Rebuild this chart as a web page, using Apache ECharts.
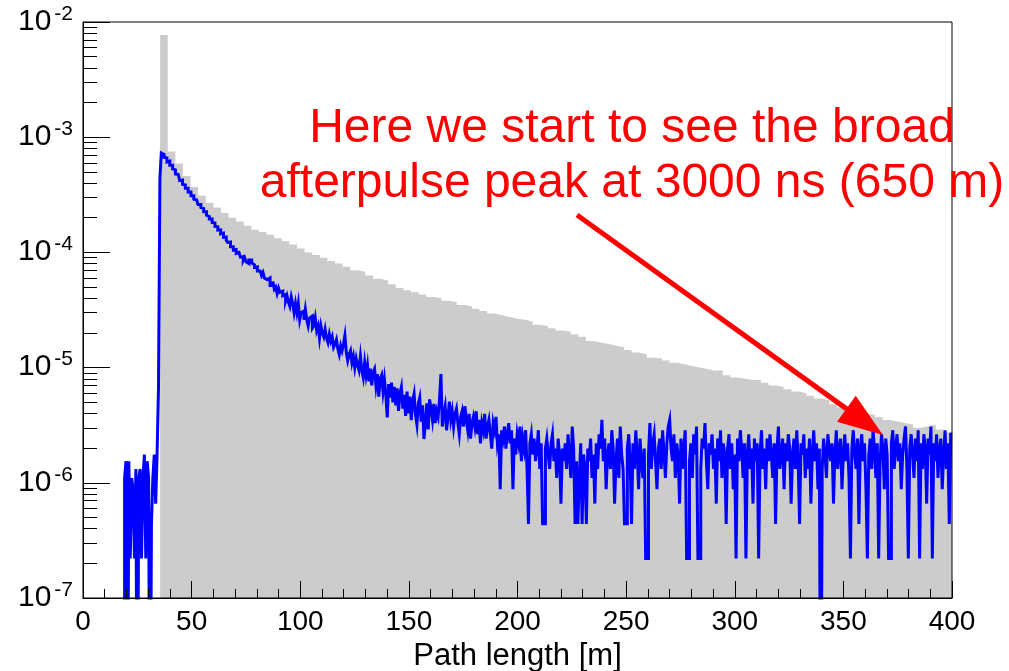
<!DOCTYPE html>
<html>
<head>
<meta charset="utf-8">
<script src="https://cdn.jsdelivr.net/npm/echarts@6/dist/echarts.min.js"></script>
<style>
  html, body { margin: 0; padding: 0; background: #fff; }
  #chart { width: 1009px; height: 671px; }
</style>
</head>
<body>
<div id="chart"></div>
<script>
// ---------------- data ----------------
// grey histogram: bins of width grayBinWidth starting at grayBinStart [m]
const grayBinStart = 35.5;
const grayBinWidth = 3.5;
const grayValues = [
  7.7e-3, 7.5e-4, 5.9e-4, 4.6e-4, 3.7e-4, 3.1e-4, 2.7e-4, 2.45e-4, 2.2e-4, 2.0e-4,
  1.85e-4, 1.7e-4, 1.57e-4, 1.5e-4, 1.42e-4, 1.33e-4, 1.25e-4, 1.17e-4, 1.08e-4, 1.0e-4,
  9.5e-5, 9.0e-5, 8.4e-5, 8.0e-5, 7.5e-5, 7.0e-5, 6.8e-5, 6.3e-5, 5.9e-5, 5.7e-5,
  5.3e-5, 4.9e-5, 4.7e-5, 4.5e-5, 4.3e-5, 4.1e-5, 4.0e-5, 3.8e-5, 3.7e-5, 3.5e-5,
  3.4e-5, 3.25e-5, 3.1e-5, 2.95e-5, 2.85e-5, 2.75e-5, 2.65e-5, 2.6e-5, 2.5e-5, 2.35e-5,
  2.3e-5, 2.2e-5, 2.1e-5, 2.05e-5, 1.95e-5, 1.85e-5, 1.7e-5, 1.65e-5, 1.6e-5, 1.55e-5,
  1.5e-5, 1.42e-5, 1.35e-5, 1.3e-5, 1.22e-5, 1.2e-5, 1.15e-5, 1.1e-5, 1.07e-5, 1.03e-5,
  1.0e-5, 9.7e-6, 9.4e-6, 9.5e-6, 8.6e-6, 8.2e-6, 8.0e-6, 7.8e-6, 7.8e-6, 7.4e-6,
  7.0e-6, 6.8e-6, 6.5e-6, 6.2e-6, 6.0e-6, 5.7e-6, 5.4e-6, 5.2e-6, 4.8e-6, 4.5e-6,
  4.3e-6, 4.2e-6, 4.0e-6, 3.9e-6, 3.7e-6, 3.5e-6, 3.4e-6, 3.3e-6, 3.2e-6, 3.0e-6,
  3.1e-6, 3.2e-6, 2.9e-6, 2.75e-6, 2.7e-6
];

// blue histogram: bins of width blueBinWidth starting at blueBinStart [m]
const blueBinStart = 19.15;
const blueBinWidth = 0.65;
const blueValues = [
  // 19.15 m ... (before the prompt peak)
  11e-7, 15.4e-7, 0, 15.4e-7, 2.2e-7, 11e-7, 8.8e-7, 2.2e-7, 13.2e-7, 0,
  11e-7, 13.2e-7, 2.2e-7, 11e-7, 17.6e-7, 2.2e-7, 15.4e-7, 11e-7, 0, 4.4e-7,
  11e-7, 17.6e-7, 6.6e-7, 17.6e-7, 6.6e-6, 4.4e-4, 7.3e-4,
  // 36.7 m ... decay
  7.1e-4, 6.7e-4, 6.6e-4, 6.1e-4, 6.2e-4, 5.7e-4, 5.7e-4, 5.3e-4, 5.2e-4, 4.8e-4,
  4.75e-4, 4.6e-4, 4.2e-4, 4.25e-4, 3.9e-4, 3.85e-4, 3.6e-4, 3.6e-4, 3.35e-4, 3.35e-4,
  3.1e-4, 3.1e-4, 2.9e-4, 2.85e-4, 2.8e-4, 2.6e-4, 2.6e-4, 2.45e-4, 2.4e-4, 2.25e-4,
  2.25e-4, 2.1e-4, 2.05e-4, 1.95e-4, 1.95e-4, 1.82e-4, 1.8e-4, 1.68e-4, 1.67e-4, 1.56e-4,
  1.57e-4, 1.45e-4, 1.47e-4, 1.35e-4, 1.36e-4, 1.27e-4, 1.22e-4, 1.23e-4, 1.12e-4, 1.12e-4,
  1.05e-4, 1.06e-4, 9.8e-5, 1.0e-4,
  // 71.8 m ...
  9.8e-5, 9.1e-5, 9.2e-5, 8.5e-5, 9.0e-5, 8.3e-5, 8.0e-5, 8.6e-5, 8.6e-5, 8.1e-5,
  7.8e-5, 7.4e-5, 7.5e-5, 6.9e-5, 6.9e-5, 6.8e-5, 6.3e-5, 6.7e-5, 6.0e-5, 5.8e-5,
  6.0e-5, 6.0e-5, 5.2e-5, 5.3e-5, 5.6e-5, 4.8e-5, 5.0e-5, 4.4e-5, 4.9e-5, 4.5e-5,
  4.6e-5, 4.2e-5, 4.3e-5, 3.8e-5, 4.2e-5, 3.7e-5, 3.4e-5, 4.1e-5, 3.6e-5, 3.0e-5,
  3.6e-5, 3.0e-5, 3.6e-5, 2.6e-5, 3.0e-5, 3.1e-5, 2.6e-5, 3.2e-5, 2.6e-5, 2.3e-5,
  2.7e-5, 2.8e-5, 2.2e-5, 2.3e-5, 2.7e-5, 2.1e-5, 2.3e-5, 1.8e-5, 2.3e-5, 2.0e-5,
  // 110.8 m ...
  1.85e-5, 2.15e-5, 1.8e-5, 1.65e-5, 1.95e-5, 1.7e-5, 1.85e-5, 1.5e-5, 1.6e-5, 1.75e-5,
  1.45e-5, 1.3e-5, 1.55e-5, 1.4e-5, 1.6e-5, 1.9e-5, 1.35e-5, 1.15e-5, 1.3e-5, 1.4e-5,
  1.1e-5, 1.25e-5, 1.0e-5, 1.2e-5, 1.05e-5, 9.5e-6,
  1.25e-5, 9.5e-6, 8.2e-6, 1.1e-5, 8.6e-6, 1.05e-5, 7.6e-6, 9.8e-6, 7.0e-6, 9.2e-6,
  9.8e-6, 7.0e-6, 8.8e-6, 5.6e-6, 8.0e-6, 8.6e-6, 6.2e-6, 7.9e-6, 5.8e-6, 3.7e-6,
  7.2e-6, 5.5e-6, 7.4e-6, 5.0e-6, 6.8e-6, 4.7e-6, 6.6e-6, 4.2e-6, 6.0e-6, 6.8e-6,
  4.4e-6, 5.8e-6, 3.8e-6, 6.2e-6, 4.0e-6, 5.6e-6, 3.5e-6, 5.1e-6, 5.9e-6, 3.9e-6,
  3.2e-6, 4.9e-6, 5.5e-6, 3.4e-6, 4.7e-6, 2.4e-6, 3.3e-6, 4.9e-6, 2.9e-6, 5.3e-6,
  // 160.2 m ... tail
  44e-7, 35.2e-7, 48.4e-7, 33e-7, 41.8e-7, 37.4e-7, 52.8e-7, 88e-7, 30.8e-7, 39.6e-7,
  46.2e-7, 28.6e-7, 37.4e-7, 50.6e-7, 35.2e-7, 41.8e-7, 30.8e-7, 39.6e-7, 44e-7, 33e-7,
  26.4e-7, 37.4e-7, 41.8e-7, 30.8e-7, 46.2e-7, 35.2e-7, 28.6e-7, 39.6e-7, 24.2e-7, 33e-7,
  37.4e-7, 30.8e-7, 41.8e-7, 26.4e-7, 35.2e-7, 22e-7, 33e-7, 28.6e-7, 39.6e-7, 24.2e-7,
  30.8e-7, 35.2e-7, 26.4e-7, 19.8e-7, 33e-7, 28.6e-7, 37.4e-7, 22e-7, 26.4e-7, 8.8e-7,
  28.6e-7, 24.2e-7, 30.8e-7, 19.8e-7, 26.4e-7, 33e-7, 22e-7, 28.6e-7, 8.8e-7, 24.2e-7,
  17.6e-7, 26.4e-7, 22e-7, 30.8e-7, 15.4e-7, 24.2e-7, 19.8e-7, 28.6e-7, 13.2e-7, 4.4e-7,
  22e-7, 26.4e-7, 17.6e-7, 24.2e-7, 15.4e-7, 19.8e-7, 28.6e-7, 13.2e-7, 22e-7, 4.4e-7,
  4.4e-7, 19.8e-7, 24.2e-7, 17.6e-7, 13.2e-7, 22e-7, 26.4e-7, 15.4e-7, 19.8e-7, 11e-7,
  24.2e-7, 17.6e-7, 6.6e-7, 19.8e-7, 15.4e-7, 22e-7, 13.2e-7, 26.4e-7, 17.6e-7, 11e-7,
  30.8e-7, 19.8e-7, 4.4e-7, 15.4e-7, 4.4e-7, 11e-7, 22e-7, 4.4e-7, 17.6e-7, 13.2e-7,
  4.4e-7, 19.8e-7, 15.4e-7, 24.2e-7, 11e-7, 17.6e-7, 6.6e-7, 22e-7, 13.2e-7, 26.4e-7,
  19.8e-7, 35.2e-7, 15.4e-7, 24.2e-7, 8.8e-7, 17.6e-7, 22e-7, 13.2e-7, 28.6e-7, 19.8e-7,
  6.6e-7, 15.4e-7, 24.2e-7, 11e-7, 30.8e-7, 17.6e-7, 13.2e-7, 4.4e-7, 4.4e-7, 19.8e-7,
  26.4e-7, 15.4e-7, 4.4e-7, 22e-7, 13.2e-7, 28.6e-7, 17.6e-7, 8.8e-7, 24.2e-7, 15.4e-7,
  11e-7, 19.8e-7, 2.2e-7, 2.2e-7, 17.6e-7, 33e-7, 13.2e-7, 22e-7, 26.4e-7, 15.4e-7,
  8.8e-7, 19.8e-7, 24.2e-7, 13.2e-7, 28.6e-7, 17.6e-7, 11e-7, 22e-7, 30.8e-7, 35.2e-7,
  19.8e-7, 15.4e-7, 26.4e-7, 11e-7, 22e-7, 17.6e-7, 6.6e-7, 24.2e-7, 13.2e-7, 19.8e-7,
  28.6e-7, 2.2e-7, 2.2e-7, 15.4e-7, 22e-7, 11e-7, 26.4e-7, 17.6e-7, 30.8e-7, 2.2e-7,
  2.2e-7, 13.2e-7, 24.2e-7, 19.8e-7, 33e-7, 15.4e-7, 8.8e-7, 22e-7, 17.6e-7, 26.4e-7,
  13.2e-7, 19.8e-7, 6.6e-7, 24.2e-7, 15.4e-7, 28.6e-7, 11e-7, 22e-7, 17.6e-7, 4.4e-7,
  19.8e-7, 26.4e-7, 13.2e-7, 22e-7, 8.8e-7, 17.6e-7, 2.2e-7, 24.2e-7, 15.4e-7, 28.6e-7,
  19.8e-7, 11e-7, 22e-7, 2.2e-7, 17.6e-7, 26.4e-7, 13.2e-7, 19.8e-7, 6.6e-7, 24.2e-7,
  15.4e-7, 22e-7, 2.2e-7, 17.6e-7, 28.6e-7, 13.2e-7, 19.8e-7, 8.8e-7, 24.2e-7, 15.4e-7,
  26.4e-7, 17.6e-7, 11e-7, 22e-7, 4.4e-7, 19.8e-7, 30.8e-7, 13.2e-7, 17.6e-7, 24.2e-7,
  8.8e-7, 22e-7, 15.4e-7, 26.4e-7, 19.8e-7, 6.6e-7, 17.6e-7, 24.2e-7, 13.2e-7, 28.6e-7,
  15.4e-7, 4.4e-7, 22e-7, 17.6e-7, 26.4e-7, 11e-7, 19.8e-7, 13.2e-7, 24.2e-7, 6.6e-7,
  17.6e-7, 28.6e-7, 15.4e-7, 22e-7, 8.8e-7, 19.8e-7, 0, 13.2e-7, 24.2e-7, 17.6e-7,
  11e-7, 26.4e-7, 19.8e-7, 15.4e-7, 22e-7, 6.6e-7, 17.6e-7, 28.6e-7, 13.2e-7, 19.8e-7,
  24.2e-7, 8.8e-7, 17.6e-7, 26.4e-7, 15.4e-7, 22e-7, 11e-7, 2.2e-7, 19.8e-7, 28.6e-7,
  17.6e-7, 13.2e-7, 24.2e-7, 4.4e-7, 19.8e-7, 26.4e-7, 15.4e-7, 22e-7, 8.8e-7, 2.2e-7,
  17.6e-7, 24.2e-7, 13.2e-7, 28.6e-7, 19.8e-7, 11e-7, 22e-7, 2.2e-7, 15.4e-7, 26.4e-7,
  19.8e-7, 8.8e-7, 24.2e-7, 17.6e-7, 2.2e-7, 2.2e-7, 22e-7, 28.6e-7, 13.2e-7, 19.8e-7,
  26.4e-7, 15.4e-7, 22e-7, 8.8e-7, 17.6e-7, 24.2e-7, 30.8e-7, 13.2e-7, 2.2e-7, 19.8e-7,
  26.4e-7, 17.6e-7, 11e-7, 24.2e-7, 15.4e-7, 28.6e-7, 2.2e-7, 22e-7, 13.2e-7, 26.4e-7,
  19.8e-7, 6.6e-7, 24.2e-7, 17.6e-7, 30.8e-7, 2.2e-7, 22e-7, 15.4e-7, 26.4e-7, 11e-7,
  19.8e-7, 24.2e-7, 8.8e-7, 17.6e-7, 28.6e-7, 13.2e-7, 22e-7, 4.4e-7, 26.4e-7
];

const xMin = 0, xMax = 400, xStep = 50;
const yMin = 1e-7, yMax = 1e-2;
const xTitle = 'Path length [m]';
const noteLines = ['Here we start to see the broad', 'afterpulse peak at 3000 ns (650 m)'];
// arrow in data coordinates [m, value]
const arrowFrom = [227.4, 2.11e-4];
const arrowTo = [368.2, 2.6e-6];

// ---------------- build ----------------
const ZERO_DRAW = 1e-9; // empty bins drawn below the axis floor (clipped)
function histPoints(start, width, values, fromFloor) {
  const pts = [];
  if (fromFloor) pts.push([start, ZERO_DRAW]);
  values.forEach((v, i) => pts.push([start + i * width, v > 0 ? v : ZERO_DRAW]));
  const last = values[values.length - 1];
  pts.push([start + values.length * width, last > 0 ? last : ZERO_DRAW]);
  return pts;
}

const FONT = '"Liberation Sans", Arial, Helvetica, sans-serif';
const chart = echarts.init(document.getElementById('chart'), null, { renderer: 'canvas' });

const option = {
  animation: false,
  backgroundColor: '#ffffff',
  grid: {
    left: 83, right: 57, top: 22, bottom: 73,
    containLabel: false, outerBoundsMode: 'none',
    show: true, borderColor: '#000', borderWidth: 1, backgroundColor: 'transparent', z: 10
  },
  xAxis: {
    type: 'value', min: xMin, max: xMax, interval: xStep, z: 10,
    name: xTitle, nameLocation: 'middle', nameGap: 42,
    nameTextStyle: { fontFamily: FONT, fontSize: 31, color: '#000' },
    axisLine: { show: true, onZero: false, lineStyle: { color: '#000', width: 1 } },
    axisTick: { show: true, inside: true, length: 17, lineStyle: { color: '#000', width: 1 } },
    minorTick: { show: true, splitNumber: 5, length: 9, lineStyle: { color: '#000', width: 1 } },
    splitLine: { show: false },
    axisLabel: { fontFamily: FONT, fontSize: 28, color: '#000', margin: 10, showMinLabel: true, showMaxLabel: true }
  },
  yAxis: {
    type: 'log', logBase: 10, min: yMin, max: yMax, splitNumber: 5, z: 10,
    axisLine: { show: true, lineStyle: { color: '#000', width: 1 } },
    axisTick: { show: true, inside: true, length: 27, lineStyle: { color: '#000', width: 1 } },
    minorTick: { show: true, splitNumber: 9, length: 14, lineStyle: { color: '#000', width: 1 } },
    splitLine: { show: false },
    axisLabel: {
      margin: 10,
      formatter: v => '{b|10}{s|' + Math.round(Math.log10(v)) + '}',
      rich: {
        b: { fontFamily: FONT, fontSize: 30, color: '#000', lineHeight: 29, verticalAlign: 'bottom', padding: [10, 0, 0, 0] },
        s: { fontFamily: FONT, fontSize: 21, color: '#000', lineHeight: 19, verticalAlign: 'bottom', padding: [0, 0, 12, 3] }
      }
    }
  },
  series: [
    {
      name: 'all', type: 'line', step: 'end', symbol: 'none', clip: true, z: 2,
      data: histPoints(grayBinStart, grayBinWidth, grayValues, false),
      lineStyle: { width: 0, color: '#cccccc' },
      areaStyle: { color: '#cccccc', opacity: 1, origin: 'start' }
    },
    {
      name: 'selected', type: 'line', step: 'end', symbol: 'none', clip: true, z: 3,
      data: histPoints(blueBinStart, blueBinWidth, blueValues, true),
      lineStyle: { width: 3, color: '#0000ff', join: 'miter' }
    }
  ]
};
chart.setOption(option);

function drawNotes() {
  const p0 = chart.convertToPixel({ gridIndex: 0 }, arrowFrom);
  const p1 = chart.convertToPixel({ gridIndex: 0 }, arrowTo);
  const dx = p1[0] - p0[0], dy = p1[1] - p0[1];
  const len = Math.sqrt(dx * dx + dy * dy);
  const ux = dx / len, uy = dy / len;
  const headLen = 45, headHalf = 16;
  const bx = p1[0] - ux * headLen, by = p1[1] - uy * headLen;
  chart.setOption({
    graphic: [
      {
        type: 'line', z: 100,
        shape: { x1: p0[0], y1: p0[1], x2: bx + ux * 2, y2: by + uy * 2 },
        style: { stroke: '#ff0000', lineWidth: 5 }
      },
      {
        type: 'polygon', z: 100,
        shape: { points: [[p1[0], p1[1]], [bx - uy * headHalf, by + ux * headHalf], [bx + uy * headHalf, by - ux * headHalf]] },
        style: { fill: '#ff0000' }
      },
      {
        type: 'text', z: 100, x: 632, y: 101,
        style: {
          text: noteLines.join('\n'), fill: '#ff0000', font: '48px ' + FONT,
          align: 'center', verticalAlign: 'top', lineHeight: 55
        }
      }
    ]
  });
}
drawNotes();
</script>
</body>
</html>
